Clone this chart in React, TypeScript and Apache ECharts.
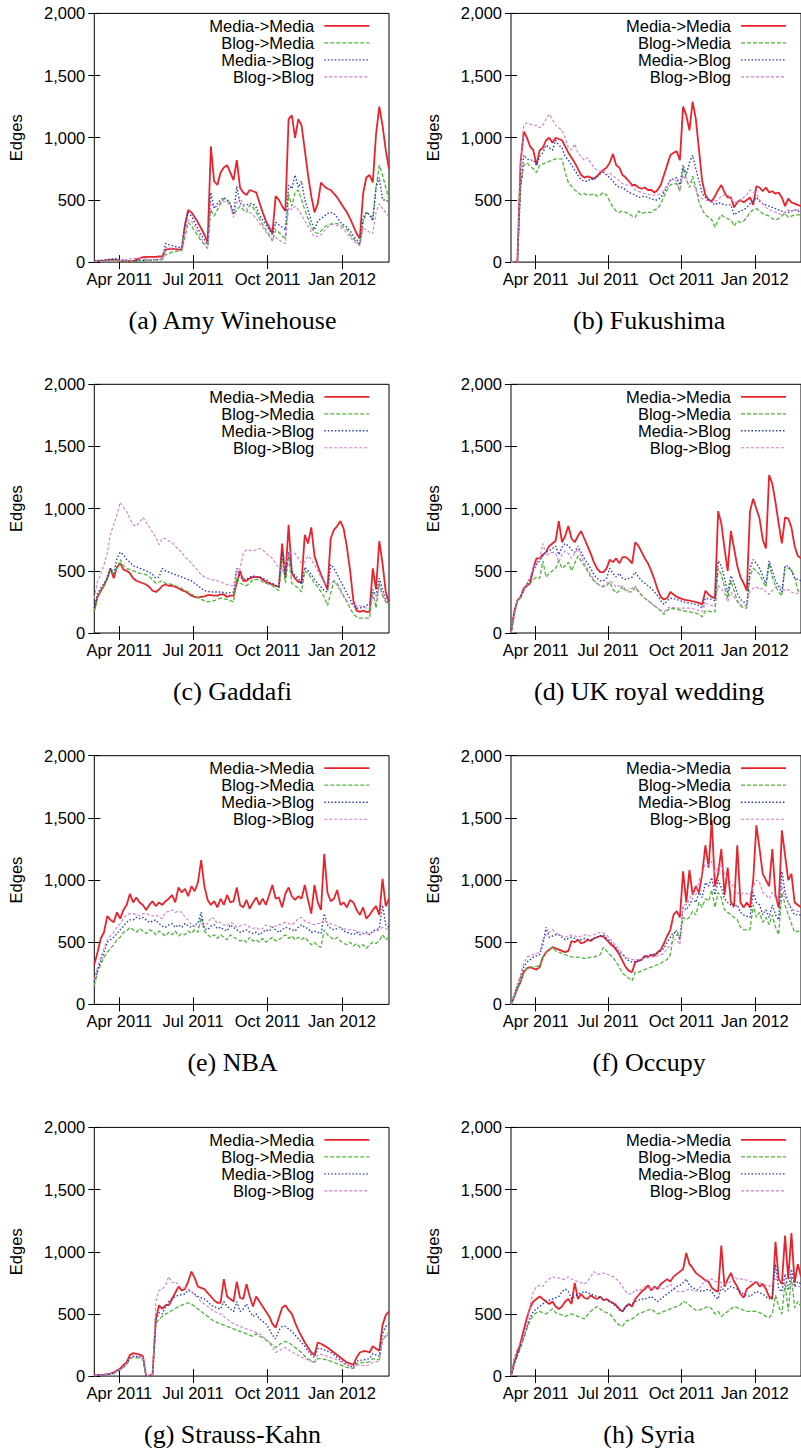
import { useEffect, useRef } from "react";
import * as echarts from "echarts";

// Sampling grid: days since 2011-03-01 (every 4 days)
const DAYS = [0,4,8,12,16,20,24,28,32,36,40,44,48,52,56,60,64,68,72,76,80,84,88,92,96,100,104,108,112,116,120,124,128,132,136,140,144,148,152,156,160,164,168,172,176,180,184,188,192,196,200,204,208,212,216,220,224,228,232,236,240,244,248,252,256,260,264,268,272,276,280,284,288,292,296,300,304,308,312,316,320,324,328,332,336,340,344,348,352,356,360,364];
const X_TICK_DAYS = [31, 122, 214, 306];
const X_TICK_LABELS = ["Apr 2011", "Jul 2011", "Oct 2011", "Jan 2012"];
const SERIES_NAMES = ["Media->Media", "Blog->Media", "Media->Blog", "Blog->Blog"];
const PANEL_TITLES = ["(a) Amy Winehouse", "(b) Fukushima", "(c) Gaddafi", "(d) UK royal wedding", "(e) NBA", "(f) Occupy", "(g) Strauss-Kahn", "(h) Syria"];

// (a) Amy Winehouse
const A_MM = [5,8,10,12,15,18,20,15,10,8,5,5,5,20,30,40,42,42,42,42,45,45,100,105,108,105,100,100,300,420,400,360,320,270,220,160,930,650,620,720,760,780,720,660,820,600,560,540,580,570,560,480,400,330,280,230,530,500,450,410,1150,1180,1000,1150,1100,900,700,530,400,470,640,610,590,580,550,520,480,440,400,350,290,230,190,550,680,700,640,1030,1250,1100,900,750];
const A_BM = [5,5,8,10,12,12,15,10,8,5,5,5,5,8,10,12,15,15,15,18,18,20,60,70,80,85,90,90,200,320,290,250,210,170,140,110,420,370,420,470,510,500,470,380,420,450,420,400,460,440,400,350,300,260,220,170,260,240,210,190,550,450,560,580,500,420,350,280,240,230,250,280,300,305,310,310,300,280,260,220,190,160,140,320,400,380,350,600,780,700,600,500];
const A_MB = [10,10,15,20,20,25,25,30,20,15,10,10,10,12,15,15,18,20,20,20,22,25,150,140,135,125,120,120,300,400,370,320,270,220,180,140,560,430,470,500,520,500,470,380,610,470,460,460,470,470,440,380,340,300,260,220,320,300,280,260,620,590,700,600,650,500,420,330,260,330,350,370,390,400,390,360,320,300,280,250,210,180,150,350,400,380,330,600,680,500,500,480];
const A_BB = [5,5,5,8,10,10,10,10,12,15,20,25,30,30,30,30,25,20,20,20,20,20,120,115,110,110,110,110,250,340,330,290,240,190,150,110,480,440,450,480,490,480,450,360,480,520,450,430,400,380,350,310,280,240,210,180,200,180,160,150,440,420,450,420,380,330,290,240,200,210,220,250,280,300,300,295,280,260,230,200,170,150,130,270,260,240,230,400,470,430,400,360];

// (b) Fukushima
const B_MM = [0,0,0,800,1050,1000,930,900,780,900,920,980,1000,960,1000,990,980,930,880,840,800,750,700,680,690,680,670,690,720,740,760,800,870,780,760,700,680,650,620,620,600,590,600,580,580,560,580,620,700,780,860,880,890,820,1250,1180,1060,1290,1150,900,650,540,500,490,530,580,620,560,520,520,440,480,500,480,500,520,460,610,600,570,600,560,570,550,560,520,450,510,480,470,460,450];
const B_BM = [0,0,0,600,780,800,770,750,720,780,790,800,810,820,830,830,830,720,640,610,580,560,540,550,540,540,550,530,540,560,540,490,440,410,400,410,400,390,370,360,410,390,400,400,400,420,430,470,530,580,620,630,630,570,760,670,600,690,600,480,420,380,360,340,280,340,380,360,350,340,290,330,320,330,360,400,420,430,410,390,380,370,350,340,350,370,390,360,370,380,380,380];
const B_MB = [0,0,0,600,860,830,820,820,780,850,880,940,920,900,980,940,920,850,820,780,740,700,660,650,650,670,660,690,710,720,700,680,650,620,600,600,580,560,550,540,520,525,530,520,510,500,500,520,560,610,660,670,680,620,780,700,800,860,750,650,550,520,500,480,460,480,470,460,460,460,380,400,410,420,440,470,490,520,490,470,460,450,440,430,420,410,400,400,410,420,410,400];
const B_BB = [0,0,0,800,1100,1120,1110,1100,1100,1080,1100,1150,1190,1150,1100,1080,1060,1000,920,900,950,880,850,820,840,800,760,740,730,740,700,720,690,680,650,630,620,620,610,580,570,560,550,545,540,540,540,550,580,620,660,660,650,570,700,650,650,640,580,530,510,500,490,480,490,500,530,540,540,510,480,480,490,520,540,580,560,550,500,470,440,420,410,400,390,380,400,420,410,420,420,410];

// (c) Gaddafi
const C_MM = [180,290,340,380,440,520,440,530,560,510,500,480,440,420,410,400,390,370,340,330,350,380,390,380,380,370,360,345,335,320,300,290,285,290,295,305,305,300,300,310,310,290,300,300,400,500,420,420,440,450,450,450,430,410,400,390,380,370,720,450,870,480,440,410,410,790,720,850,620,540,470,410,350,760,830,860,900,840,690,500,260,180,170,180,170,170,520,350,740,560,330,250];
const C_BM = [180,300,330,380,430,510,470,520,590,540,520,510,500,490,480,475,470,450,430,400,410,420,400,395,390,380,370,360,340,330,310,300,285,270,260,250,255,260,270,280,275,270,260,250,450,400,390,380,400,430,430,430,410,400,390,380,360,340,600,400,620,400,380,360,330,500,480,440,400,370,330,290,220,320,420,400,350,300,250,200,150,130,120,120,120,120,330,200,400,300,250,220];
const C_MB = [200,320,360,400,440,520,480,600,650,630,590,570,540,530,520,510,500,490,470,440,450,520,500,490,480,470,460,450,440,430,420,400,380,360,340,335,330,330,330,330,325,320,325,330,520,450,440,430,450,460,450,450,440,430,410,400,380,370,650,450,650,500,460,440,390,530,500,470,430,400,370,340,330,550,520,470,420,370,320,270,220,200,200,210,220,240,350,300,440,350,280,230];
const C_BB = [280,420,470,550,640,800,870,950,1050,1010,980,920,870,860,890,930,890,850,810,770,710,760,760,740,730,700,670,650,610,590,560,530,500,470,450,440,430,425,420,410,400,390,380,380,500,520,640,670,665,660,670,680,670,640,620,600,560,520,490,560,640,650,640,600,560,570,620,590,550,500,450,410,380,400,420,380,330,290,260,240,225,220,220,210,200,200,300,250,380,320,260,230];

// (d) UK royal wedding
const D_MM = [0,170,260,290,360,380,400,520,600,600,630,650,700,720,740,900,730,780,860,760,730,780,820,760,700,640,570,520,490,490,520,590,570,600,560,610,610,590,560,730,700,650,600,560,500,430,350,290,270,280,330,310,290,280,270,265,260,255,250,240,230,340,310,290,280,980,880,680,500,820,680,540,450,400,340,980,1080,1000,920,750,680,1270,1200,1050,880,720,930,920,850,700,620,600];
const D_BM = [0,140,260,280,340,380,400,430,450,440,580,450,480,500,520,580,520,540,570,500,560,620,580,540,500,450,420,400,380,370,380,410,350,320,340,380,340,330,330,370,330,300,280,260,240,220,200,180,150,180,200,195,190,185,180,175,170,165,160,150,130,180,175,170,170,520,470,370,280,420,340,260,220,200,200,460,520,500,470,420,370,560,450,380,330,300,530,520,510,450,340,330];
const D_MB = [0,150,260,290,340,390,440,500,550,580,620,660,660,680,700,630,690,720,700,670,650,700,650,600,560,520,470,440,420,420,440,520,480,450,480,440,430,440,450,490,450,420,400,380,360,330,300,260,230,260,280,275,270,260,250,245,240,235,230,220,200,280,275,270,260,580,540,440,320,460,400,320,270,250,230,520,590,560,520,460,400,580,500,420,370,330,540,540,500,440,430,420];
const D_BB = [0,150,260,290,340,400,450,520,560,600,720,620,640,650,640,570,630,660,640,600,640,680,620,560,520,470,430,400,380,380,400,420,400,370,380,360,340,350,360,380,340,310,280,260,240,220,200,180,170,200,210,205,200,200,200,200,200,195,190,180,170,240,230,220,220,380,360,320,250,330,290,250,230,220,220,340,360,370,350,360,330,310,340,370,380,360,340,350,330,320,320,320];

// (e) NBA
const E_MM = [320,420,530,580,710,680,660,740,690,760,800,890,820,860,820,800,760,800,830,790,820,800,830,850,880,820,940,900,930,870,950,910,980,1160,950,840,800,830,780,850,800,880,820,830,940,800,780,840,770,820,860,800,850,800,880,960,850,860,780,890,940,870,840,870,850,960,840,730,960,820,760,1210,900,830,850,920,800,820,780,840,820,760,720,780,690,720,760,790,720,1010,790,850];
const E_BM = [150,260,320,380,420,450,480,520,540,580,590,620,600,580,610,590,570,600,590,560,590,570,550,580,560,590,550,570,560,590,570,600,580,700,590,560,540,560,530,560,540,520,560,540,530,510,520,500,540,510,520,500,530,500,520,540,510,520,540,560,530,550,520,540,520,540,510,480,500,470,460,600,560,540,520,540,510,490,480,500,470,490,460,480,450,480,500,490,510,560,520,540];
const E_MB = [180,280,350,420,500,520,540,570,600,630,660,680,680,700,690,700,680,660,670,680,650,630,620,640,650,620,640,620,650,630,620,640,650,740,610,600,630,640,610,620,600,590,640,620,600,580,590,600,580,570,580,560,580,600,590,620,600,580,600,620,610,600,590,620,640,620,610,580,590,580,570,730,640,610,600,610,620,590,580,570,560,580,560,570,580,560,590,600,610,800,640,620];
const E_BB = [200,300,380,450,520,550,580,620,650,690,720,730,730,720,710,730,730,720,710,720,700,690,740,750,760,740,750,740,700,680,640,630,620,650,640,650,700,690,650,660,640,630,660,650,620,630,640,640,620,610,620,600,610,640,630,620,630,640,650,660,650,640,660,690,700,670,660,650,640,650,650,680,660,650,640,630,620,610,600,600,600,590,580,570,560,570,580,590,600,620,610,600];

// (f) Occupy
const F_MM = [0,60,130,180,260,290,300,290,280,300,380,420,440,460,450,440,430,420,430,510,500,520,490,500,520,510,530,540,550,545,520,490,470,440,400,350,300,270,260,340,350,360,390,380,400,390,420,440,490,550,600,720,750,700,1070,820,1080,880,950,900,1050,1280,1100,1480,950,1050,1250,880,1100,820,790,1280,820,780,820,780,1000,1440,1250,1050,1000,950,1250,880,780,1400,1200,1000,1050,820,800,780];
const F_BM = [0,60,120,180,250,290,300,300,305,310,380,420,440,460,430,420,410,400,390,380,380,380,375,370,375,380,380,390,400,460,430,400,380,340,300,250,230,210,190,260,260,270,280,290,300,310,320,330,350,360,400,560,600,520,700,680,700,750,720,820,780,850,830,920,780,900,860,760,740,720,700,680,620,600,600,600,800,700,740,660,700,640,720,620,560,900,800,720,650,580,590,580];
const F_MB = [0,80,150,220,300,340,360,380,390,400,480,620,540,550,560,560,540,520,530,540,530,520,520,530,525,520,530,540,550,560,530,510,480,450,420,400,370,350,340,345,350,360,380,390,400,405,410,430,450,500,540,580,560,530,780,760,800,850,820,900,860,980,950,1020,880,1000,940,850,820,800,780,800,740,720,710,700,900,820,800,720,760,700,800,720,680,1070,900,820,760,720,720,720];
const F_BB = [0,80,160,240,330,380,390,400,410,420,520,560,580,600,580,560,550,540,550,560,550,540,550,560,555,550,560,570,580,575,560,530,500,470,440,410,380,370,360,360,360,365,370,375,380,385,390,400,410,450,480,520,520,480,800,800,840,900,880,1000,1050,1130,1120,1150,1060,1100,1120,1050,1020,980,940,900,880,900,890,880,950,1000,980,900,880,850,900,860,820,950,860,820,780,750,750,740];

// (g) Strauss-Kahn
const G_MM = [5,8,10,12,15,20,30,45,60,90,110,170,185,178,172,162,0,3,15,460,570,540,570,570,620,670,720,690,700,760,840,790,720,710,700,670,640,610,590,590,780,640,620,600,760,630,620,740,640,560,640,600,560,520,480,420,390,470,550,570,530,500,430,370,320,270,230,190,170,270,260,245,230,210,190,170,150,130,110,100,90,150,190,200,200,190,240,220,205,410,490,520];
const G_BM = [3,5,8,10,12,15,20,35,50,70,90,140,150,148,145,140,0,3,10,420,460,480,500,510,530,545,560,570,580,590,580,560,540,520,500,480,460,440,430,420,410,400,390,380,370,360,350,340,330,320,340,320,310,290,270,250,230,250,270,280,270,250,230,210,190,160,140,120,110,140,140,135,130,120,110,100,90,80,70,65,60,100,105,110,110,115,140,135,130,280,330,350];
const G_MB = [5,6,8,10,14,18,25,40,55,75,100,150,160,158,155,150,0,3,12,450,510,500,560,600,620,640,650,655,660,690,680,660,640,630,620,600,570,560,545,540,600,560,540,520,600,520,540,580,520,480,500,460,440,420,380,330,300,370,400,400,380,360,330,300,270,240,200,170,150,220,220,210,200,190,170,150,130,110,90,80,70,120,125,130,135,140,180,170,160,340,400,420];
const G_BB = [5,6,8,10,14,18,25,40,55,75,95,145,160,158,155,150,0,3,12,600,690,700,730,800,750,760,730,710,710,700,680,650,630,600,580,560,540,520,510,500,480,460,440,420,410,400,390,380,370,360,350,340,320,300,270,230,190,200,220,230,210,195,180,165,150,140,130,120,110,170,175,170,160,150,140,130,115,100,90,80,70,90,88,85,85,90,110,115,120,290,320,330];

// (h) Syria
const H_MM = [0,110,190,270,370,470,550,600,620,640,620,600,580,600,560,540,560,600,620,580,750,620,660,630,620,650,630,620,640,610,620,600,590,570,540,520,560,580,560,620,650,680,700,730,690,720,700,740,760,780,760,800,820,840,860,990,900,870,830,810,790,770,760,710,690,680,1050,720,780,830,760,720,660,630,700,720,740,760,720,740,700,640,620,1080,780,740,1130,780,1150,750,900,800];
const H_BM = [0,90,160,230,300,380,450,490,510,520,510,500,520,540,510,500,490,480,490,500,490,480,470,460,490,520,540,560,540,520,510,500,470,430,410,400,440,450,460,480,500,510,520,530,540,520,500,510,520,530,540,550,560,570,600,590,570,550,530,530,540,550,560,540,500,520,480,500,520,540,560,550,540,530,520,520,520,520,510,500,480,470,500,650,560,500,750,520,800,550,600,560];
const H_MB = [0,100,170,240,310,400,470,520,540,560,580,600,610,620,630,640,680,700,680,620,640,660,670,680,670,660,650,640,630,620,610,600,580,560,530,520,560,570,580,600,610,620,620,630,640,620,600,620,640,660,680,700,720,730,750,780,730,710,700,690,680,690,700,680,640,620,720,680,700,720,710,700,680,660,650,640,660,680,670,660,640,620,640,900,700,680,820,690,860,720,760,740];
const H_BB = [0,150,220,260,310,420,570,680,720,730,720,760,780,800,790,790,780,780,800,780,770,760,750,740,760,800,840,820,820,830,820,810,800,780,760,720,680,660,660,700,680,700,720,710,700,710,720,710,700,720,740,700,680,680,680,690,700,690,680,700,740,760,780,780,760,760,750,740,750,760,800,780,780,780,770,760,760,760,750,740,730,720,750,780,770,760,750,740,740,720,720,720];

const PANEL_DATA = [
  [A_MM, A_BM, A_MB, A_BB],
  [B_MM, B_BM, B_MB, B_BB],
  [C_MM, C_BM, C_MB, C_BB],
  [D_MM, D_BM, D_MB, D_BB],
  [E_MM, E_BM, E_MB, E_BB],
  [F_MM, F_BM, F_MB, F_BB],
  [G_MM, G_BM, G_MB, G_BB],
  [H_MM, H_BM, H_MB, H_BB],
];

const COLORS = ["#e8232b", "#52b33c", "#2b3fb3", "#d07ccd"];
const WIDTHS = [1.8, 1.3, 1.4, 1.1];
const DASHES: any[] = ["solid", [4, 2], [1.5, 2], [3, 2]];

const COL_LEFT = [94.3, 511];
const PLOT_W = 294.7;
const ROW_TOP = [13.4, 384.3, 755.7, 1127.4];
const PLOT_H = 248.7;
const CAPTION_X = [232.5, 649.2];
const SANS = "'Liberation Sans', Arial, Helvetica, sans-serif";
const SERIF = "'Liberation Serif', 'Times New Roman', serif";
const FS = 16.5;

function buildOption() {
  const grid: any[] = [];
  const xAxis: any[] = [];
  const yAxis: any[] = [];
  const series: any[] = [];
  const graphic: any[] = [];

  PANEL_DATA.forEach((panel, p) => {
    const col = p % 2;
    const row = Math.floor(p / 2);
    const left = COL_LEFT[col];
    const top = ROW_TOP[row];
    grid.push({
      left, top, width: PLOT_W, height: PLOT_H,
      show: true, borderColor: "#000", borderWidth: 1, backgroundColor: "transparent",
      containLabel: false,
    });
    const xBase = {
      type: "value", gridIndex: p, min: 0, max: 364,
      axisLine: { show: false }, splitLine: { show: false },
    };
    xAxis.push({
      ...xBase, position: "bottom",
      axisTick: { show: true, inside: true, length: 7, lineStyle: { color: "#000" }, customValues: X_TICK_DAYS },
      axisLabel: {
        show: true, margin: 8, color: "#000", fontSize: FS, fontFamily: SANS,
        customValues: X_TICK_DAYS,
        formatter: (v: number) => { const k = X_TICK_DAYS.indexOf(Math.round(v)); return k >= 0 ? X_TICK_LABELS[k] : ""; },
      },
    });
    xAxis.push({
      ...xBase, position: "top",
      axisTick: { show: true, inside: true, length: 7, lineStyle: { color: "#000" }, customValues: X_TICK_DAYS },
      axisLabel: { show: false },
    });
    const yBase = {
      type: "value", gridIndex: p, min: 0, max: 2000, interval: 500,
      axisLine: { show: false }, splitLine: { show: false },
      axisTick: { show: true, inside: true, length: 6, lineStyle: { color: "#000" } },
    };
    yAxis.push({
      ...yBase, position: "left",
      name: "Edges", nameLocation: "middle", nameGap: 70,
      nameTextStyle: { color: "#000", fontSize: FS, fontFamily: SANS },
      axisLabel: {
        show: true, margin: 9, color: "#000", fontSize: FS, fontFamily: SANS,
        formatter: (v: number) => v.toLocaleString("en-US"),
      },
    });
    yAxis.push({ ...yBase, position: "right", axisLabel: { show: false } });

    panel.forEach((vals, s) => {
      series.push({
        type: "line",
        name: SERIES_NAMES[s],
        xAxisIndex: p * 2,
        yAxisIndex: p * 2,
        data: DAYS.map((d, i) => [d, vals[i]]),
        showSymbol: false,
        symbol: "none",
        silent: true,
        clip: true,
        z: 2 + s,
        lineStyle: { color: COLORS[s], width: WIDTHS[s], type: DASHES[s] },
        itemStyle: { color: COLORS[s] },
      });
      // legend entry
      const ly = top + 12.5 + 17 * s;
      graphic.push({
        type: "text", x: left + 220, y: ly, z: 100,
        style: { text: SERIES_NAMES[s], fill: "#000", font: `${FS}px ${SANS}`, textAlign: "right", textVerticalAlign: "middle" },
      });
      graphic.push({
        type: "line", z: 100,
        shape: { x1: left + 230, y1: ly, x2: left + 275, y2: ly },
        style: { stroke: COLORS[s], lineWidth: WIDTHS[s], lineDash: s === 0 ? null : DASHES[s] },
      });
    });

    graphic.push({
      type: "text", x: CAPTION_X[col], y: top + PLOT_H + 58, z: 100,
      style: { text: PANEL_TITLES[p], fill: "#000", font: `26px ${SERIF}`, textAlign: "center", textVerticalAlign: "middle" },
    });
  });

  return { animation: false, backgroundColor: "#fff", grid, xAxis, yAxis, series, graphic };
}

export default function App() {
  const ref = useRef<HTMLDivElement>(null);
  useEffect(() => {
    if (!ref.current) return;
    const chart = echarts.init(ref.current, null, { renderer: "svg", width: 801, height: 1448 });
    chart.setOption(buildOption() as any);
    return () => chart.dispose();
  }, []);
  return <div ref={ref} style={{ position: "absolute", left: 0, top: 0, width: 801, height: 1448 }} />;
}
